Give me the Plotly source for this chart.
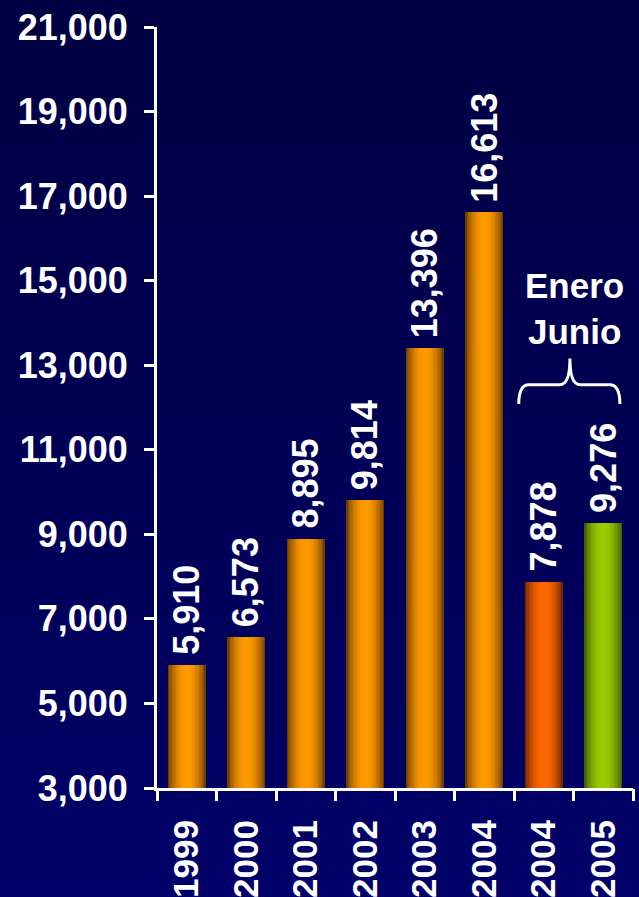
import math
import plotly.graph_objects as go

# --- data -------------------------------------------------------------
years = ["1999", "2000", "2001", "2002", "2003", "2004", "2004", "2005"]
values = [5910, 6573, 8895, 9814, 13396, 16613, 7878, 9276]
y_ticks = [3000, 5000, 7000, 9000, 11000, 13000, 15000, 17000, 19000, 21000]
period_label = "Enero<br>Junio"

# bar colours: (centre highlight, shaded edge)
orange = ((255, 153, 0), (110, 62, 0))
red_orange = ((255, 102, 0), (110, 40, 0))
green = ((153, 204, 0), (70, 90, 0))
bar_palette = [orange] * 6 + [red_orange, green]

# --- geometry ---------------------------------------------------------
W, H = 639, 897
M = dict(l=157, r=6, t=27, b=109)
FONT = "Liberation Sans, Arial, sans-serif"
BAR_W = 0.64
N_LAYERS = 14

x_pos = list(range(len(values)))


def mix(c0, c1, t):
    return "rgb({},{},{})".format(*[round(a + (b - a) * t) for a, b in zip(c0, c1)])


fig = go.Figure()

# cylinder shading: stacked overlay bars, narrower layers are brighter
for k in range(N_LAYERS):
    frac = 1 - k / N_LAYERS
    t = math.sin((k / (N_LAYERS - 1)) * math.pi / 2) ** 0.8
    colors = [mix(edge, centre, t) for centre, edge in bar_palette]
    fig.add_trace(go.Bar(
        x=x_pos, y=values, width=BAR_W * frac,
        marker=dict(color=colors, line=dict(width=0)),
        showlegend=False, hoverinfo="skip" if k else "x+y",
    ))

# value labels above each bar
for xi, v in zip(x_pos, values):
    fig.add_annotation(
        x=xi, y=v, text=f"{v:,}", textangle=-90, showarrow=False,
        xanchor="center", yanchor="bottom", yshift=8,
        font=dict(family=FONT, size=36, color="white", weight="bold"),
    )

# "Enero Junio" caption with a curly brace over the last two bars
fig.add_annotation(
    x=6.52, y=13300, text=period_label, showarrow=False,
    xanchor="center", yanchor="bottom",
    font=dict(family=FONT, size=35, color="white", weight="bold"),
)
bx0, bx1, bxc = 5.58, 7.28, 6.44
y_end, y_mid, y_tip = 12080, 12540, 13160
dx = 0.17
brace = (
    f"M {bx0},{y_end} Q {bx0},{y_mid} {bx0 + dx},{y_mid} "
    f"L {bxc - dx},{y_mid} Q {bxc},{y_mid} {bxc},{y_tip} "
    f"Q {bxc},{y_mid} {bxc + dx},{y_mid} "
    f"L {bx1 - dx},{y_mid} Q {bx1},{y_mid} {bx1},{y_end}"
)
fig.add_shape(type="path", path=brace, xref="x", yref="y",
              line=dict(color="white", width=3))

# vertical navy gradient behind everything
pw = W - M["l"] - M["r"]
ph = H - M["t"] - M["b"]
n_strips = 45
top_c, bot_c = (0, 0, 66), (0, 0, 104)
for i in range(n_strips):
    py0 = H * i / n_strips
    py1 = H * (i + 1) / n_strips + 1
    fig.add_shape(
        type="rect", xref="paper", yref="paper", layer="below",
        x0=-M["l"] / pw - 0.01, x1=1 + M["r"] / pw + 0.01,
        y0=(H - M["b"] - py1) / ph, y1=(H - M["b"] - py0) / ph,
        fillcolor=mix(top_c, bot_c, i / (n_strips - 1)),
        line=dict(width=0),
    )

tick_font = dict(family=FONT, size=36, color="white", weight="bold")
x_tick_font = dict(family=FONT, size=35, color="white", weight="bold")

fig.update_layout(
    width=W, height=H, margin=M,
    barmode="overlay", bargap=0,
    paper_bgcolor="rgb(0,0,86)", plot_bgcolor="rgba(0,0,0,0)",
    showlegend=False,
    xaxis=dict(
        range=[-0.5, 7.5], tickvals=x_pos, ticktext=years,
        tickangle=-90, tickfont=x_tick_font, ticks="",
        ticklabelstandoff=15,
        showline=True, linecolor="white", linewidth=3,
        showgrid=False, zeroline=False, automargin=False, fixedrange=True,
    ),
    xaxis2=dict(
        overlaying="x", anchor="y", side="bottom", range=[-0.5, 7.5],
        tickvals=[i - 0.5 for i in range(len(values) + 1)],
        ticks="outside", ticklen=12, tickwidth=3, tickcolor="white",
        showticklabels=False, showline=False, showgrid=False,
        zeroline=False, automargin=False,
    ),
    yaxis=dict(
        range=[3000, 21000], tickvals=y_ticks, tickformat=",",
        tickfont=tick_font, ticks="outside", ticklen=10, tickwidth=3,
        tickcolor="white", ticklabelstandoff=9,
        showline=True, linecolor="white", linewidth=3,
        showgrid=False, zeroline=False, automargin=False, fixedrange=True,
    ),
)

# invisible trace so the boundary-tick axis is drawn
fig.add_trace(go.Scatter(x=[0], y=[3000], xaxis="x2", mode="markers",
                         marker=dict(opacity=0), showlegend=False,
                         hoverinfo="skip"))

fig.write_html("out.html")
